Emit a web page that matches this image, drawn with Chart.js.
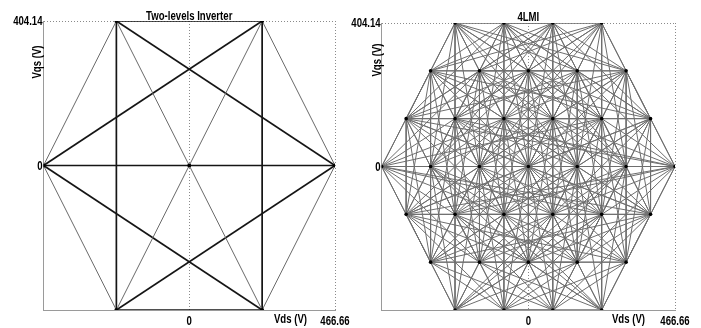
<!DOCTYPE html>
<html>
<head>
<meta charset="utf-8">
<script src="https://cdn.jsdelivr.net/npm/chart.js@4.4.0/dist/chart.umd.min.js"></script>
<style>
  html, body { margin: 0; padding: 0; background: #fff; }
  #wrap { position: relative; width: 701px; height: 328px; overflow: hidden; }
  canvas { position: absolute; top: 0; }
</style>
</head>
<body>
<div id="wrap">
  <canvas id="twoLevel" width="352" height="328" style="left:0"></canvas>
  <canvas id="fourLevel" width="361" height="328" style="left:340px"></canvas>
</div>
<script>
// axis ticks (same on both plots)
const xTicks = [0, 466.66];
const yTicks = [0, 404.14];
const xRange = [-466.66, 466.66];
const yRange = [-404.14, 404.14];

// two-level inverter: 6 active vectors + zero vector
const twoX = [466.66, 233.33, -233.33, -466.66, -233.33, 233.33, 0];
const twoY = [0, 404.14, 404.14, 0, -404.14, -404.14, 0];
const twoBold = [[1,2],[4,5],[2,4],[1,5],[3,0],[3,1],[2,0],[3,5],[4,0]];
const twoThin = [[0,1],[2,3],[3,4],[5,0],[6,1],[6,2],[6,4],[6,5]];

// 4LMI: 37 voltage vectors, row by row from the top
const fourX = [
  -233.33, -77.78, 77.78, 233.33,
  -311.11, -155.55, 0, 155.55, 311.11,
  -388.88, -233.33, -77.78, 77.78, 233.33, 388.88,
  -466.66, -311.11, -155.55, 0, 155.55, 311.11, 466.66,
  -388.88, -233.33, -77.78, 77.78, 233.33, 388.88,
  -311.11, -155.55, 0, 155.55, 311.11,
  -233.33, -77.78, 77.78, 233.33
];
const fourY = [
  404.14, 404.14, 404.14, 404.14,
  269.43, 269.43, 269.43, 269.43, 269.43,
  134.71, 134.71, 134.71, 134.71, 134.71, 134.71,
  0, 0, 0, 0, 0, 0, 0,
  -134.71, -134.71, -134.71, -134.71, -134.71, -134.71,
  -269.43, -269.43, -269.43, -269.43, -269.43,
  -404.14, -404.14, -404.14, -404.14
];
// transitions seen in the trajectory: fourLinks[i] = vectors reached from vector i
const fourLinks = [
  [1,2,4,5,6,7,9,10,11,12,16,17,8,13,19],
  [2,3,4,5,6,7,8,9,10,11,12,13,17,18,14,20],
  [3,4,5,6,7,8,10,11,12,13,14,18,19,9,16],
  [5,6,7,8,11,12,13,14,19,20,4,10,17],
  [5,6,9,10,11,12,15,16,17,18,22,23,14,27],
  [6,7,9,10,11,12,13,15,16,17,18,19,23,24],
  [7,8,9,10,11,12,13,14,16,17,18,19,20,24,25],
  [8,10,11,12,13,14,17,18,19,20,21,25,26],
  [11,12,13,14,18,19,20,21,26,27,9,22],
  [10,11,15,16,17,18,22,23,24,28,21,27],
  [11,12,15,16,17,18,19,22,23,24,25,28,29,21],
  [12,13,15,16,17,18,19,20,22,23,24,25,26,29,30],
  [13,14,16,17,18,19,20,21,23,24,25,26,27,30,31],
  [14,17,18,19,20,21,24,25,26,27,31,32],
  [18,19,20,21,25,26,27,32,22],
  [16,17,22,23,24,28,29,13,26,27],
  [17,18,22,23,24,25,28,29,30,33,36],
  [18,19,22,23,24,25,26,28,29,30,31,33,34],
  [19,20,22,23,24,25,26,27,28,29,30,31,32,34,35],
  [20,21,23,24,25,26,27,29,30,31,32,35,36],
  [21,24,25,26,27,30,31,32,36],
  [25,26,27,31,32,22,23],
  [23,24,28,29,30,33,34,32],
  [24,25,28,29,30,31,33,34,35,36],
  [25,26,28,29,30,31,32,33,34,35,36],
  [26,27,28,29,30,31,32,33,34,35,36],
  [27,29,30,31,32,34,35,36],
  [30,31,32,35,36],
  [29,30,33,34,35,27,14],
  [30,31,33,34,35,36],
  [31,32,33,34,35,36],
  [32,33,34,35,36],
  [34,35,36],
  [34,35,20,26],
  [35,36],
  [36],
  []
];

const FONT = 'bold 12px "Liberation Sans", Arial, sans-serif';
const fmt = v => v === 0 ? '0' : v.toFixed(2);

function seg(xs, ys, a, b, color, width) {
  return {
    data: [{ x: xs[a], y: ys[a] }, { x: xs[b], y: ys[b] }],
    showLine: true,
    borderColor: color,
    borderWidth: width,
    pointRadius: 0
  };
}

function dots(xs, ys, r) {
  return {
    data: xs.map((x, i) => ({ x: x, y: ys[i] })),
    showLine: false,
    order: -1,
    pointRadius: r,
    pointBackgroundColor: '#000',
    pointBorderWidth: 0
  };
}

// narrow bold text (the figure uses a condensed face)
function narrow(ctx, text, x, y, align, rot) {
  ctx.save();
  ctx.translate(x, y);
  if (rot) ctx.rotate(rot);
  ctx.scale(0.8, 1);
  ctx.textAlign = align;
  ctx.fillText(text, 0, 0);
  ctx.restore();
}

const labels = {
  id: 'labels',
  afterDraw(chart, args, o) {
    const { ctx, chartArea: a, scales: { x, y } } = chart;
    ctx.save();
    ctx.font = FONT;
    ctx.fillStyle = '#000';
    ctx.textBaseline = 'alphabetic';
    narrow(ctx, o.title, (a.left + a.right) / 2, o.titleBase, 'center');
    ctx.textBaseline = 'middle';
    x.ticks.forEach(t => narrow(ctx, fmt(t.value), x.getPixelForValue(t.value), x.top + 12, 'center'));
    y.ticks.forEach(t => narrow(ctx, fmt(t.value), a.left - 1, y.getPixelForValue(t.value) + 1, 'right'));
    narrow(ctx, 'Vds (V)', x.right - o.vdsGap, x.top + 10, 'right');
    narrow(ctx, 'Vqs (V)', a.left - o.vqsGap, a.top + o.vqsDrop, 'center', -Math.PI / 2);
    ctx.restore();
  }
};

function makeChart(id, datasets, o) {
  new Chart(document.getElementById(id), {
    type: 'scatter',
    data: { datasets: datasets },
    plugins: [labels],
    options: {
      responsive: false,
      animation: false,
      events: [],
      layout: { padding: { top: o.top, right: o.padRight, left: 0, bottom: 0 } },
      plugins: {
        legend: { display: false },
        tooltip: { enabled: false },
        title: { display: false },
        labels: o
      },
      scales: {
        x: {
          min: xRange[0], max: xRange[1],
          afterBuildTicks: s => { s.ticks = xTicks.map(v => ({ value: v })); },
          afterFit: s => { s.height = 18; },
          ticks: { display: false },
          grid: { color: '#8a8a8a', drawTicks: false },
          border: { color: '#9a9a9a', width: 1, dash: [1, 2] }
        },
        y: {
          min: yRange[0], max: yRange[1],
          afterBuildTicks: s => { s.ticks = yTicks.map(v => ({ value: v })); },
          afterFit: s => { s.width = o.yWidth; },
          ticks: { display: false },
          grid: { color: '#8a8a8a', drawTicks: false },
          border: { color: '#9a9a9a', width: 1, dash: [1, 2] }
        }
      }
    }
  });
}

// left: two-level inverter
const twoSets = [];
twoThin.forEach(([a, b]) => twoSets.push(seg(twoX, twoY, a, b, '#6a6a6a', 1)));
twoBold.forEach(([a, b]) => twoSets.push(seg(twoX, twoY, a, b, '#151515', 1.7)));
twoSets.push(dots(twoX, twoY, 2));
makeChart('twoLevel', twoSets, {
  title: 'Two-levels Inverter', titleBase: 20, top: 21,
  yWidth: 43.5, padRight: 17, vdsGap: 28, vqsGap: 5.5, vqsDrop: 41
});

// right: four-level inverter
const fourSets = [];
fourLinks.forEach((to, a) => to.forEach(b =>
  fourSets.push(seg(fourX, fourY, a, b, '#6e6e6e', 1))));
fourSets.push(dots(fourX, fourY, 1.8));
makeChart('fourLevel', fourSets, {
  title: '4LMI', titleBase: 21, top: 23,
  yWidth: 41.7, padRight: 26, vdsGap: 30, vqsGap: 3.7, vqsDrop: 37
});
</script>
</body>
</html>
